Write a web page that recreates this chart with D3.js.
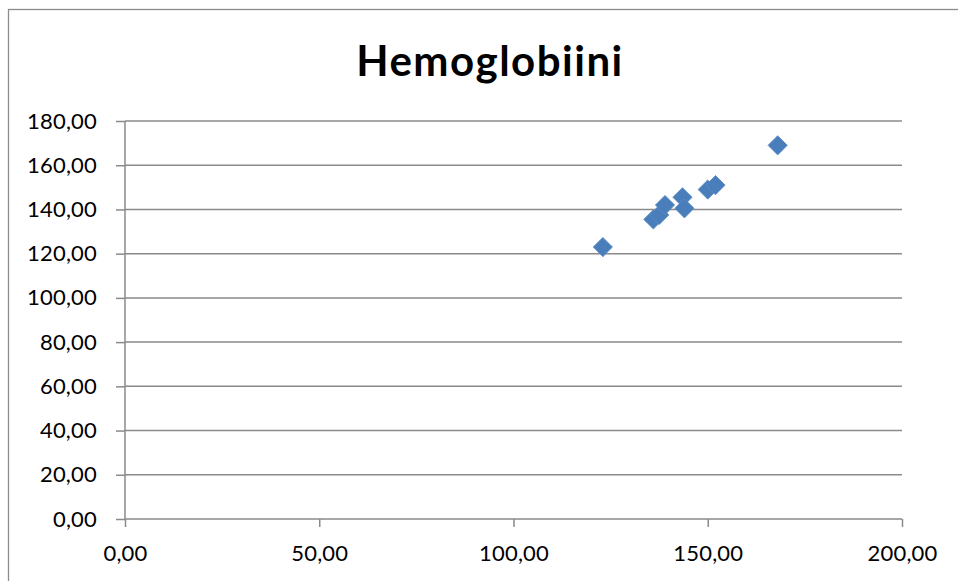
<!DOCTYPE html>
<html>
<head>
<meta charset="utf-8">
<script src="https://cdn.jsdelivr.net/npm/d3@7"></script>
<style>
  html, body { margin: 0; padding: 0; background: #fff; }
  svg { display: block; }
  text { font-family: Lato, "Open Sans", sans-serif; fill: #000; }
</style>
</head>
<body>
<svg id="chart" width="958" height="581"></svg>
<script>
// Hemoglobin measurements: method A (x) vs method B (y)
const chartTitle = "Hemoglobiini";
const xValues = [123, 136, 137.5, 139, 143.5, 144, 150, 152, 168];
const yValues = [123, 135.5, 137.5, 142, 145.5, 140.5, 149, 151, 169];
const xTicks = [0, 50, 100, 150, 200];
const yTicks = [0, 20, 40, 60, 80, 100, 120, 140, 160, 180];

const points = xValues.map((x, i) => ({ x, y: yValues[i] }));

const svg = d3.select("#chart");
const W = 958, H = 581;
const plot = { left: 125, right: 902, top: 121, bottom: 519 };

const fmt = v => d3.format(".2f")(v).replace(".", ",");

// outer chart frame
svg.append("rect")
  .attr("x", 8.5).attr("y", 9.5)
  .attr("width", W + 10).attr("height", H + 10)
  .attr("fill", "none").attr("stroke", "#8c8c8c").attr("stroke-width", 1.3);

const x = d3.scaleLinear().domain([0, 200]).range([plot.left, plot.right]);
const y = d3.scaleLinear().domain([0, 180]).range([plot.bottom, plot.top]);

// horizontal gridlines
svg.append("g")
  .selectAll("line")
  .data(yTicks.filter(t => t > 0))
  .join("line")
  .attr("x1", plot.left).attr("x2", plot.right)
  .attr("y1", d => y(d)).attr("y2", d => y(d))
  .attr("stroke", "#8a8a8a").attr("stroke-width", 1.5);

const labelStyle = sel => sel
  .style("font-family", "Lato, 'Open Sans', sans-serif")
  .style("font-size", "22px")
  .style("letter-spacing", "0.2px")
  .attr("fill", "#000");

// y axis
const yAxis = svg.append("g")
  .attr("transform", `translate(${plot.left},0)`)
  .call(d3.axisLeft(y).tickValues(yTicks).tickFormat(fmt).tickSize(9).tickPadding(19));
yAxis.select(".domain").attr("stroke", "#8a8a8a").attr("stroke-width", 1.5)
  .attr("d", `M0,${plot.top}V${plot.bottom}`);
yAxis.selectAll(".tick line").attr("stroke", "#8a8a8a").attr("stroke-width", 1.5);
yAxis.selectAll(".tick text").call(labelStyle);

// x axis
const xAxis = svg.append("g")
  .attr("transform", `translate(0,${plot.bottom})`)
  .call(d3.axisBottom(x).tickValues(xTicks).tickFormat(fmt).tickSize(8).tickPadding(18));
xAxis.select(".domain").attr("stroke", "#8a8a8a").attr("stroke-width", 1.5)
  .attr("d", `M${plot.left},0H${plot.right}`);
xAxis.selectAll(".tick line").attr("stroke", "#8a8a8a").attr("stroke-width", 1.5);
xAxis.selectAll(".tick text").call(labelStyle);

// title
svg.append("text")
  .attr("x", 490).attr("y", 76)
  .attr("text-anchor", "middle")
  .style("font-size", "42px").style("font-weight", "bold")
  .style("letter-spacing", "1.5px")
  .text(chartTitle);

// diamond markers
const diamond = d3.symbol().type(d3.symbolSquare).size(185);
svg.append("g")
  .selectAll("path")
  .data(points)
  .join("path")
  .attr("d", diamond)
  .attr("transform", d => `translate(${x(d.x)},${y(d.y)}) rotate(45)`)
  .attr("fill", "#4a7ebb")
  .attr("stroke", "#5b8bc6").attr("stroke-width", 0.8);
</script>
</body>
</html>
